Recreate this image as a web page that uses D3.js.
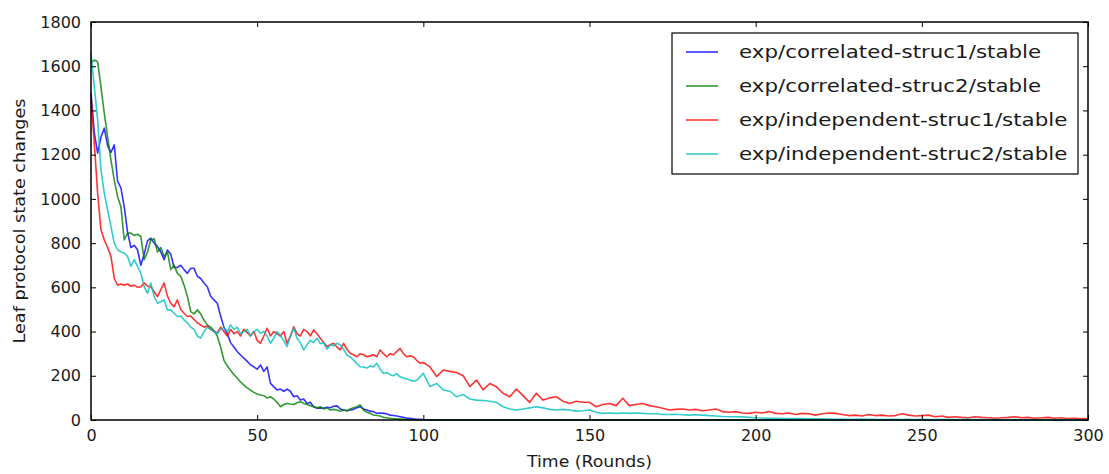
<!DOCTYPE html>
<html>
<head>
<meta charset="utf-8">
<script src="https://cdn.jsdelivr.net/npm/d3@7"></script>
<style>
  body { margin: 0; background: #fff; }
  text { font-family: "DejaVu Sans", sans-serif; fill: #1a1a1a; }
</style>
</head>
<body>
<div id="chart"></div>
<script>

// Rounds: every round up to 100, then every second round up to 300
var rounds = d3.range(0, 101).concat(d3.range(102, 301, 2));

var seriesNames = ["exp/correlated-struc1/stable", "exp/correlated-struc2/stable",
                   "exp/independent-struc1/stable", "exp/independent-struc2/stable"];

var xTicks = [0, 50, 100, 150, 200, 250, 300];
var yTicks = [0, 200, 400, 600, 800, 1000, 1200, 1400, 1600, 1800];

var correlated1 = [
  1480,1300,1207,1280,1320,1240,1210,1244,1080,1050,
  965,850,780,790,770,700,750,810,822,800,
  784,760,725,769,750,690,690,700,680,663,
  686,686,650,640,620,603,560,543,528,470,
  420,390,350,330,310,294,280,265,250,240,
  230,249,220,240,166,150,136,140,130,140,
  130,105,110,90,95,75,80,60,53,55,
  53,58,55,62,64,50,45,42,45,48,
  55,60,50,45,40,38,30,32,30,28,
  22,20,18,15,12,8,8,5,3,3,
  2,
  1,1,0,0,0,0,0,0,0,0, 0,0,0,0,0,0,0,0,0,0,
  0,0,0,0,0,0,0,0,0,0, 0,0,0,0,0,0,0,0,0,0,
  0,0,0,0,0,0,0,0,0,0, 0,0,0,0,0,0,0,0,0,0,
  0,0,0,0,0,0,0,0,0,0, 0,0,0,0,0,0,0,0,0,0,
  0,0,0,0,0,0,0,0,0,0, 0,0,0,0,0,0,0,0,0,0
];

var correlated2 = [
  1615,1628,1620,1507,1387,1281,1176,1085,1010,965,
  814,845,845,835,840,830,725,760,814,820,
  760,780,740,760,680,700,663,650,610,560,
  490,480,498,480,452,430,420,405,380,330,
  270,245,225,205,190,172,158,145,135,125,
  118,113,110,100,105,95,80,60,70,75,
  72,70,78,83,75,70,65,60,55,60,
  50,55,45,48,45,40,45,42,50,55,
  60,68,45,35,30,23,20,18,12,10,
  8,6,5,4,3,2,1,1,0,0,
  0,
  0,0,0,0,0,0,0,0,0,0, 0,0,0,0,0,0,0,0,0,0,
  0,0,0,0,0,0,0,0,0,0, 0,0,0,0,0,0,0,0,0,0,
  0,0,0,0,0,0,0,0,0,0, 0,0,0,0,0,0,0,0,0,0,
  0,0,0,0,0,0,0,0,0,0, 0,0,0,0,0,0,0,0,0,0,
  0,0,0,0,0,0,0,0,0,0, 0,0,0,0,0,0,0,0,0,0
];

var independent1 = [
  1460,1250,1025,860,814,780,740,640,610,615,
  610,615,605,610,600,603,620,605,603,580,
  558,590,620,560,528,513,543,500,483,468,
  470,455,440,430,420,425,410,400,395,420,
  400,380,410,390,400,380,410,395,380,400,
  360,347,380,415,380,400,390,380,400,347,
  380,422,390,380,410,400,380,407,390,370,
  350,332,340,347,330,317,347,320,302,295,
  286,300,295,286,290,295,286,317,300,286,
  300,295,310,324,300,286,290,285,270,257,
  260,
  240,196,226,220,215,200,151,181,136,165,
  150,121,105,140,110,80,121,90,100,105,
  85,75,85,80,80,60,70,75,65,98,
  65,70,75,65,60,53,45,48,50,45,
  48,42,45,50,38,35,38,32,30,35,
  32,38,30,28,32,25,30,28,22,28,
  32,30,25,20,22,18,25,20,22,18,
  20,28,22,18,20,22,15,18,12,15,
  12,10,15,12,10,8,10,12,15,10,
  12,8,10,12,8,10,6,8,5,6
];

var independent2 = [
  1660,1507,1357,1130,1025,950,875,800,770,760,
  755,740,695,725,695,663,603,573,620,558,
  528,535,543,498,498,483,468,470,452,440,
  420,410,380,370,400,420,410,400,390,410,
  420,400,430,410,420,390,400,410,380,400,
  410,392,400,380,347,370,400,380,360,332,
  380,415,370,350,317,340,360,350,370,345,
  350,320,340,335,347,340,320,294,285,271,
  255,241,240,235,245,240,257,230,211,215,
  205,200,210,195,190,185,181,175,180,195,
  211,
  151,165,136,130,105,115,95,90,88,85,
  80,60,50,45,50,55,60,55,48,45,
  48,45,40,42,45,35,30,32,30,32,
  30,32,30,28,28,25,25,26,24,22,
  24,22,20,18,16,15,15,14,12,10,
  9,8,8,7,7,6,6,5,5,5,
  4,3,4,3,3,4,3,3,2,3,
  3,2,3,2,3,2,2,3,2,2,
  2,3,2,2,2,2,1,2,2,1,
  2,1,2,1,1,2,1,1,1,1
];

var seriesValues = [correlated1, correlated2, independent1, independent2];
var colors = ["#0000ff", "#008000", "#ff0000", "#00bfbf"];

function init() {

  // Margins & dimensions of the plot area
  var margin = {top: 22, right: 21, bottom: 54, left: 91},
      width = 1109 - margin.left - margin.right,
      height = 474 - margin.top - margin.bottom;

  var svg = d3.select("#chart")
              .append("svg")
              .attr("width", width + margin.left + margin.right)
              .attr("height", height + margin.top + margin.bottom)
              .append("g")
              .attr("transform", "translate(" + margin.left + "," + margin.top + ")");

  var x = d3.scaleLinear().domain([0, 300]).range([0, width]);
  var y = d3.scaleLinear().domain([0, 1800]).range([height, 0]);

  // Lines (drawn first so the frame and ticks sit on top)
  var line = d3.line()
               .x(function(d, i) { return x(rounds[i]); })
               .y(function(d) { return y(d); });

  svg.append("g")
     .selectAll("path")
     .data(seriesValues)
     .enter()
     .append("path")
     .attr("d", line)
     .attr("fill", "none")
     .attr("stroke", function(d, i) { return colors[i]; })
     .attr("stroke-opacity", 0.8)
     .attr("stroke-width", 1.6)
     .attr("stroke-linejoin", "round");

  // Axes: ticks point inward on all four sides, plain integer labels
  svg.append("g")
     .attr("transform", "translate(0," + height + ")")
     .call(d3.axisBottom(x).tickValues(xTicks).tickSize(-5).tickSizeOuter(0).tickPadding(10).tickFormat(d3.format("d")));

  svg.append("g")
     .call(d3.axisLeft(y).tickValues(yTicks).tickSize(-5).tickSizeOuter(0).tickPadding(10).tickFormat(d3.format("d")));

  svg.append("g")
     .call(d3.axisTop(x).tickValues(xTicks).tickSize(-5).tickSizeOuter(0).tickFormat(""));

  svg.append("g")
     .attr("transform", "translate(" + width + ",0)")
     .call(d3.axisRight(y).tickValues(yTicks).tickSize(-5).tickSizeOuter(0).tickFormat(""));

  svg.selectAll(".domain").remove();
  svg.selectAll(".tick line").attr("stroke", "#000");
  svg.selectAll(".tick text").style("font-size", "16px").style("font-family", "DejaVu Sans").attr("fill", "#1a1a1a");

  // Frame
  svg.append("rect")
     .attr("width", width)
     .attr("height", height)
     .attr("fill", "none")
     .attr("stroke", "#000")
     .attr("stroke-width", 1.5);

  // Axis labels (the reference glyphs are a bit wider than DejaVu, so stretch them)
  svg.append("text")
     .attr("x", width / 2)
     .attr("y", height + 47)
     .attr("text-anchor", "middle")
     .attr("textLength", 125)
     .attr("lengthAdjust", "spacingAndGlyphs")
     .style("font-size", "16.5px")
     .text("Time (Rounds)");

  svg.append("text")
     .attr("transform", "rotate(-90)")
     .attr("x", -height / 2)
     .attr("y", -66)
     .attr("text-anchor", "middle")
     .attr("textLength", 245)
     .attr("lengthAdjust", "spacingAndGlyphs")
     .style("font-size", "15px")
     .text("Leaf protocol state changes");

  // Legend
  var legend = svg.append("g")
                  .attr("transform", "translate(" + (672 - margin.left) + "," + (33 - margin.top) + ")");

  legend.append("rect")
        .attr("width", 406)
        .attr("height", 141)
        .attr("fill", "#fff")
        .attr("stroke", "#000")
        .attr("stroke-width", 1.2);

  var rows = legend.selectAll(".row")
                   .data(seriesNames)
                   .enter()
                   .append("g")
                   .attr("class", "row")
                   .attr("transform", function(d, i) { return "translate(0," + (19 + i * 34) + ")"; });

  rows.append("line")
      .attr("x1", 14).attr("x2", 46)
      .attr("stroke", function(d, i) { return colors[i]; })
      .attr("stroke-opacity", 0.8)
      .attr("stroke-width", 1.6);

  rows.append("text")
      .attr("x", 67)
      .attr("dy", "0.33em")
      .style("font-size", "17.5px")
      .text(function(d) { return d; })
      .each(function() {
        var w = this.getComputedTextLength();
        d3.select(this).attr("textLength", w * 1.22).attr("lengthAdjust", "spacingAndGlyphs");
      });
}

window.onload = init;
</script>
</body>
</html>
